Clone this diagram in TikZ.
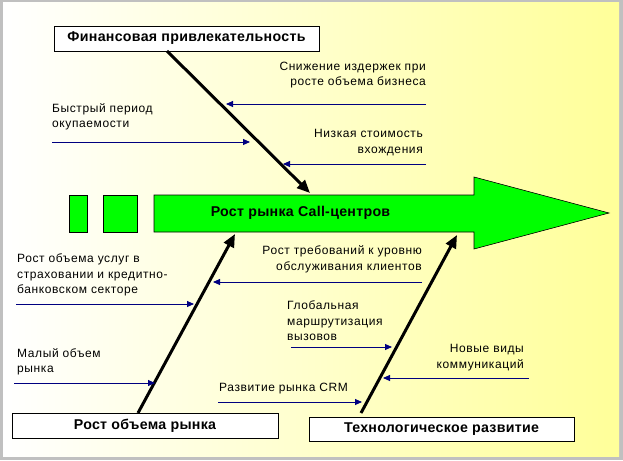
\documentclass[tikz,border=0pt]{standalone}
\usepackage{fontspec}
\setmainfont{Liberation Sans}
\newfontfamily\spaced[LetterSpace=5]{Liberation Sans}
\newfontfamily\boldspaced[LetterSpace=2]{Liberation Sans}
\usetikzlibrary{arrows.meta}
\definecolor{bgy}{HTML}{FFFF99}
\definecolor{framegray}{HTML}{C0C0C0}
\definecolor{navyb}{HTML}{000080}
\definecolor{grn}{HTML}{00FF00}
\begin{document}
\begin{tikzpicture}[x=1pt,y=-1pt,
  lbl/.style={inner sep=0pt, font=\spaced\fontsize{12}{15.5}\selectfont},
  boldtext/.style={font=\boldspaced\bfseries\fontsize{14.2}{16}\selectfont},
  box/.style={draw=black, fill=white, line width=0.8pt, inner sep=0pt, boldtext},
  cause/.style={navyb, line width=0.9pt, -{Triangle[length=7pt,width=6pt]}},
  bone/.style={black, line width=3pt, -{Triangle[length=13pt,width=11pt]}}]
\useasboundingbox (0,0) rectangle (623,460);
\fill[framegray] (0,0) rectangle (623,460);
\shade[left color=white, right color=bgy] (3,3) rectangle (619,456);

% green arrow
\draw[fill=grn, line width=0.6pt] (69,195) rectangle (87,232);
\draw[fill=grn, line width=0.6pt] (103,195) rectangle (137,232);
\draw[fill=grn, line width=0.6pt] (154,195) -- (474,195) -- (474,177) -- (609,213)
  -- (474,249) -- (474,232) -- (154,232) -- cycle;
\node[boldtext, inner sep=0pt] (main) at (300.5,213) {Рост рынка Call-центров};

% boxes
\node[box, minimum width=265pt, minimum height=25pt] (fin) at (186.5,38.5) {Финансовая привлекательность};
\node[box, minimum width=266pt, minimum height=25pt] (mkt) at (145,425.5) {Рост объема рынка};
\node[box, minimum width=265pt, minimum height=24pt] (tech) at (441.5,429) {Технологическое развитие};

% bones
\coordinate (fs) at (167,51);
\coordinate (ft) at (310,193);
\coordinate (ms) at (138,413);
\coordinate (mt) at (235,234);
\coordinate (ts) at (361,413);
\coordinate (tt) at (457,235);
\draw[bone] (fs) -- (ft);
\draw[bone] (ms) -- (mt);
\draw[bone] (ts) -- (tt);

% causes
\coordinate (a1) at (426,104); \coordinate (b1) at (226,104);
\coordinate (a2) at (52,142);  \coordinate (b2) at (250,142);
\coordinate (a3) at (426,164); \coordinate (b3) at (283,164);
\coordinate (a4) at (16,304);  \coordinate (b4) at (194,304);
\coordinate (a5) at (422,282); \coordinate (b5) at (213,282);
\coordinate (a6) at (291,347); \coordinate (b6) at (392,347);
\coordinate (a7) at (14,383);  \coordinate (b7) at (155,383);
\coordinate (a8) at (218,402); \coordinate (b8) at (362,402);
\coordinate (a9) at (529,378); \coordinate (b9) at (383,378);
\foreach \i in {1,...,9} {\draw[cause] (a\i) -- (b\i);}

% labels
\node[lbl, anchor=east, align=right] (t1) at (426,75) {Снижение издержек при\\росте объема бизнеса};
\node[lbl, anchor=west, align=left] (t2) at (52,117) {Быстрый период\\окупаемости};
\node[lbl, anchor=east, align=right] (t3) at (423,142.5) {Низкая стоимость\\вхождения};
\node[lbl, anchor=west, align=left] (t4) at (17,275) {Рост объема услуг в\\страховании и кредитно-\\банковском секторе};
\node[lbl, anchor=east, align=right] (t5) at (422,259.5) {Рост требований к уровню\\обслуживания клиентов};
\node[lbl, anchor=west, align=left] (t6) at (287,321) {Глобальная\\маршрутизация\\вызовов};
\node[lbl, anchor=west, align=left] (t7) at (17,362) {Малый объем\\рынка};
\node[lbl, anchor=west, align=left] (t8) at (219,389) {Развитие рынка CRM};
\node[lbl, anchor=east, align=right] (t9) at (524,357.5) {Новые виды\\коммуникаций};
\end{tikzpicture}
\end{document}
